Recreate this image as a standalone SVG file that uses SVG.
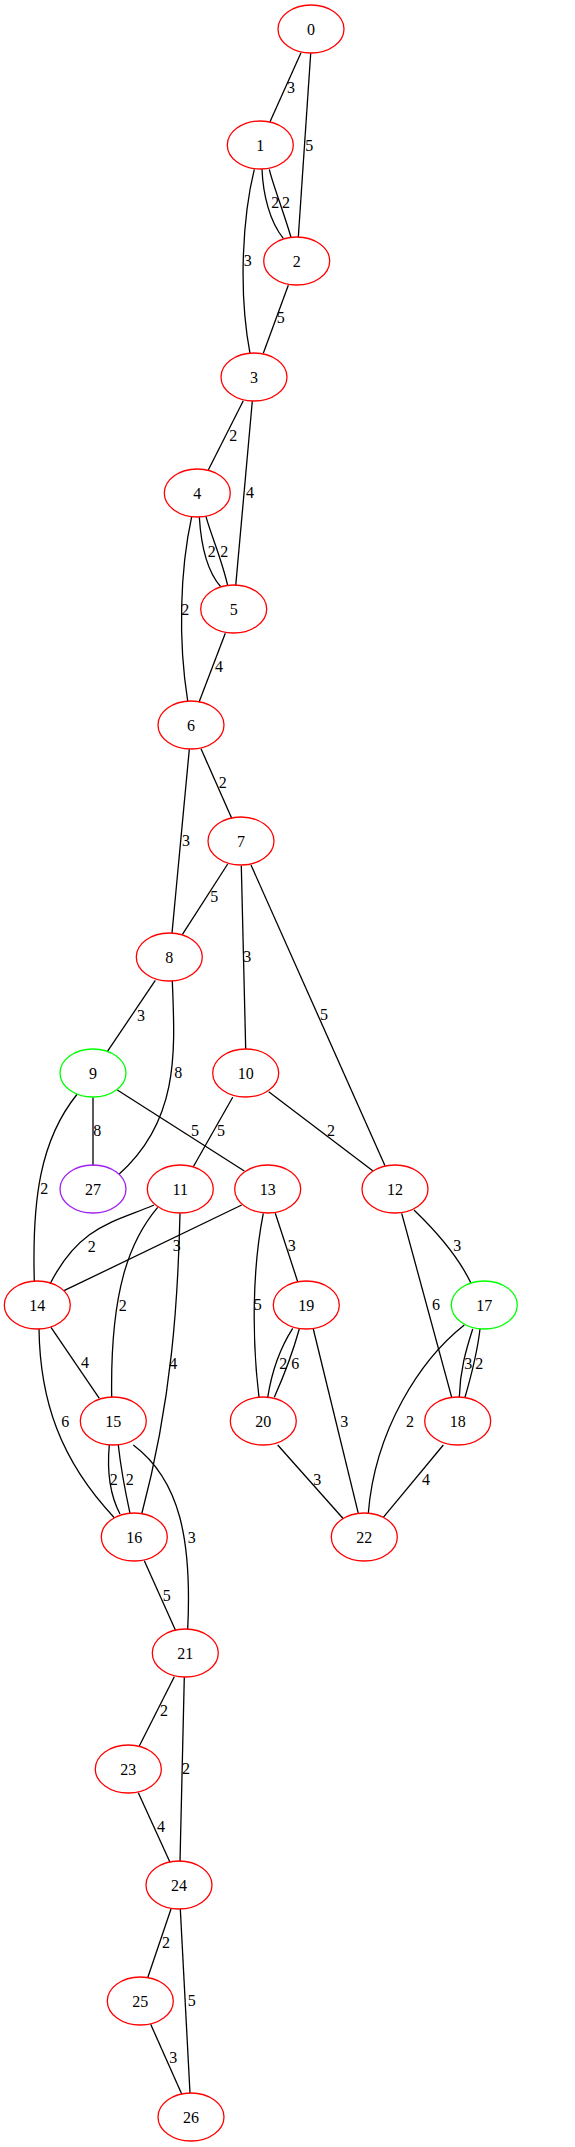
<svg xmlns="http://www.w3.org/2000/svg" width="575" height="2147" viewBox="0 0 575 2147">
<style>
.n ellipse{fill:none;stroke:#ff0000;stroke-width:1.3}
.n.g ellipse{stroke:#00ff00}
.n.p ellipse{stroke:#a020f0}
text{font-family:"Liberation Serif","Times New Roman",serif;font-size:16px;fill:#000;text-anchor:middle}
#edges path{fill:none;stroke:#000;stroke-width:1.3}
</style>
<rect width="575" height="2147" fill="#fff"/>
<g id="edges">
<path d="M301,52.7 L270,121.7"/><text x="291" y="93">3</text>
<path d="M310.7,53.3 L298.3,237.3"/><text x="309.3" y="150.5">5</text>
<path d="M262,169.3 C263,195 270,222 283.3,238.3"/><text x="275.3" y="208.2">2</text>
<path d="M269.3,169.3 C273,185 283,210 291,237.3"/><text x="286" y="208.2">2</text>
<path d="M254.3,169.3 C243,215 238,290 250,353.3"/><text x="247.7" y="265.5">3</text>
<path d="M288.3,285.3 L263.3,353.3"/><text x="280.7" y="323.2">5</text>
<path d="M243.3,400.7 L208.3,470"/><text x="233.3" y="440.8">2</text>
<path d="M252.3,401.3 L235.7,585.7"/><text x="250" y="498.2">4</text>
<path d="M199.3,516.7 C201,545 206,570 220.7,586.7"/><text x="211.7" y="557.2">2</text>
<path d="M206,516.7 C211,535 222,560 227.7,585.7"/><text x="224.3" y="557.2">2</text>
<path d="M191.7,516.7 C180,570 178,640 187.7,701"/><text x="185.3" y="614.5">2</text>
<path d="M225.3,633.3 L199,702.3"/><text x="219" y="672.2">4</text>
<path d="M201,748.7 L231.7,818.3"/><text x="222.7" y="788.2">2</text>
<path d="M189.3,749.3 L172,933.3"/><text x="186" y="845.5">3</text>
<path d="M227.7,864 L182.3,934.7"/><text x="214.3" y="902.2">5</text>
<path d="M241.3,865.7 L245.7,1049.3"/><text x="247.3" y="962.2">3</text>
<path d="M251,865 L385,1165.7"/><text x="324" y="1019.8">5</text>
<path d="M155.3,980.3 L107.3,1051.7"/><text x="141" y="1020.5">3</text>
<path d="M172.3,981 C175,1050 180,1120 119,1174.3"/><text x="178.3" y="1077.8">8</text>
<path d="M93,1097.3 L93,1165.7"/><text x="97.3" y="1135.5">8</text>
<path d="M117.3,1090 L244.3,1171"/><text x="195" y="1136.2">5</text>
<path d="M77.3,1094 C40,1140 32,1200 34.3,1281"/><text x="44.3" y="1193.8">2</text>
<path d="M232.7,1097.3 L193.3,1166.7"/><text x="221" y="1136.2">5</text>
<path d="M268.7,1091.7 L372.7,1170.7"/><text x="331" y="1136.2">2</text>
<path d="M154,1205 C115,1222 80,1225 50,1284"/><text x="91.7" y="1252.2">2</text>
<path d="M157.7,1207.3 C130,1240 110,1290 111.7,1397.3"/><text x="122.7" y="1310.5">2</text>
<path d="M180,1213.3 C178,1300 172,1400 141.7,1514"/><text x="173.3" y="1368.8">4</text>
<path d="M241.7,1205 L64,1290.7"/><text x="176.7" y="1251.2">3</text>
<path d="M275.3,1213.3 L297.7,1281.7"/><text x="291.7" y="1251.2">3</text>
<path d="M263.3,1213.3 C252,1270 252,1340 259,1397.3"/><text x="257.7" y="1309.8">5</text>
<path d="M414,1210 C440,1235 460,1260 471,1283.3"/><text x="457.3" y="1251.2">3</text>
<path d="M401.7,1213.3 L451.7,1397.3"/><text x="436" y="1309.8">6</text>
<path d="M292.7,1328.3 C282,1345 272,1370 267.7,1397.3"/><text x="283.3" y="1368.8">2</text>
<path d="M299.3,1329 C292,1355 282,1380 274.3,1397.3"/><text x="295.3" y="1368.8">6</text>
<path d="M313.3,1329 L358.3,1513.3"/><text x="344.3" y="1426.5">3</text>
<path d="M472.7,1329 C466,1350 460,1370 459.3,1397.3"/><text x="468.3" y="1368.8">3</text>
<path d="M480,1329 C477,1355 470,1380 465,1397.3"/><text x="479.3" y="1368.8">2</text>
<path d="M464.3,1325 C420,1360 375,1430 368.3,1513.3"/><text x="410" y="1426.5">2</text>
<path d="M443.3,1445 L383.3,1517.3"/><text x="426" y="1484.8">4</text>
<path d="M277.7,1445 L343.3,1518.7"/><text x="317.3" y="1484.8">3</text>
<path d="M51,1327.3 L99.3,1398.3"/><text x="85" y="1368.2">4</text>
<path d="M39,1329 C40,1400 60,1460 114.3,1517.7"/><text x="65.3" y="1426.5">6</text>
<path d="M109.3,1445 C107,1470 110,1495 120,1514"/><text x="113.7" y="1484.8">2</text>
<path d="M118.3,1445 C121,1470 126,1495 130,1513.3"/><text x="129.7" y="1484.8">2</text>
<path d="M133.3,1445 C180,1480 192,1540 187.7,1629.3"/><text x="191.7" y="1542.5">3</text>
<path d="M144.3,1560.7 L175.7,1630.7"/><text x="166.7" y="1600.5">5</text>
<path d="M174.3,1676.7 L139.3,1746"/><text x="164" y="1716.2">2</text>
<path d="M184.3,1677.3 L180,1861.7"/><text x="186" y="1774.2">2</text>
<path d="M138.3,1792.7 L170,1862.3"/><text x="161" y="1831.5">4</text>
<path d="M171,1909 L147.7,1977.7"/><text x="166" y="1948.2">2</text>
<path d="M180.3,1909 L190,2093.3"/><text x="191.7" y="2005.5">5</text>
<path d="M150.7,2024.3 L181.7,2094"/><text x="173.3" y="2063.2">3</text>
</g>
<g id="n0" class="n"><ellipse cx="311" cy="29" rx="33" ry="24"/><text x="311" y="34.5">0</text></g>
<g id="n1" class="n"><ellipse cx="260.3" cy="145" rx="33" ry="24"/><text x="260.3" y="150.5">1</text></g>
<g id="n2" class="n"><ellipse cx="296.7" cy="261" rx="33" ry="24"/><text x="296.7" y="266.5">2</text></g>
<g id="n3" class="n"><ellipse cx="254" cy="377" rx="33" ry="24"/><text x="254" y="382.5">3</text></g>
<g id="n4" class="n"><ellipse cx="197.3" cy="493" rx="33" ry="24"/><text x="197.3" y="498.5">4</text></g>
<g id="n5" class="n"><ellipse cx="233.7" cy="609" rx="33" ry="24"/><text x="233.7" y="614.5">5</text></g>
<g id="n6" class="n"><ellipse cx="191" cy="725" rx="33" ry="24"/><text x="191" y="730.5">6</text></g>
<g id="n7" class="n"><ellipse cx="241" cy="841" rx="33" ry="24"/><text x="241" y="846.5">7</text></g>
<g id="n8" class="n"><ellipse cx="169.3" cy="957" rx="33" ry="24"/><text x="169.3" y="962.5">8</text></g>
<g id="n9" class="n g"><ellipse cx="93" cy="1073" rx="33" ry="24"/><text x="93" y="1078.5">9</text></g>
<g id="n10" class="n"><ellipse cx="245.7" cy="1073" rx="33" ry="24"/><text x="245.7" y="1078.5">10</text></g>
<g id="n27" class="n p"><ellipse cx="93" cy="1189" rx="33" ry="24"/><text x="93" y="1194.5">27</text></g>
<g id="n11" class="n"><ellipse cx="180.3" cy="1189" rx="33" ry="24"/><text x="180.3" y="1194.5">11</text></g>
<g id="n13" class="n"><ellipse cx="267.7" cy="1189" rx="33" ry="24"/><text x="267.7" y="1194.5">13</text></g>
<g id="n12" class="n"><ellipse cx="395" cy="1189" rx="33" ry="24"/><text x="395" y="1194.5">12</text></g>
<g id="n14" class="n"><ellipse cx="37.3" cy="1305" rx="33" ry="24"/><text x="37.3" y="1310.5">14</text></g>
<g id="n19" class="n"><ellipse cx="306.3" cy="1305" rx="33" ry="24"/><text x="306.3" y="1310.5">19</text></g>
<g id="n17" class="n g"><ellipse cx="484.3" cy="1305" rx="33" ry="24"/><text x="484.3" y="1310.5">17</text></g>
<g id="n15" class="n"><ellipse cx="113.3" cy="1421" rx="33" ry="24"/><text x="113.3" y="1426.5">15</text></g>
<g id="n20" class="n"><ellipse cx="263.3" cy="1421" rx="33" ry="24"/><text x="263.3" y="1426.5">20</text></g>
<g id="n18" class="n"><ellipse cx="457.7" cy="1421" rx="33" ry="24"/><text x="457.7" y="1426.5">18</text></g>
<g id="n16" class="n"><ellipse cx="134.3" cy="1537" rx="33" ry="24"/><text x="134.3" y="1542.5">16</text></g>
<g id="n22" class="n"><ellipse cx="364.3" cy="1537" rx="33" ry="24"/><text x="364.3" y="1542.5">22</text></g>
<g id="n21" class="n"><ellipse cx="185.3" cy="1653" rx="33" ry="24"/><text x="185.3" y="1658.5">21</text></g>
<g id="n23" class="n"><ellipse cx="128.3" cy="1769" rx="33" ry="24"/><text x="128.3" y="1774.5">23</text></g>
<g id="n24" class="n"><ellipse cx="179" cy="1885" rx="33" ry="24"/><text x="179" y="1890.5">24</text></g>
<g id="n25" class="n"><ellipse cx="140.3" cy="2001" rx="33" ry="24"/><text x="140.3" y="2006.5">25</text></g>
<g id="n26" class="n"><ellipse cx="191" cy="2117" rx="33" ry="24"/><text x="191" y="2122.5">26</text></g>
</svg>
